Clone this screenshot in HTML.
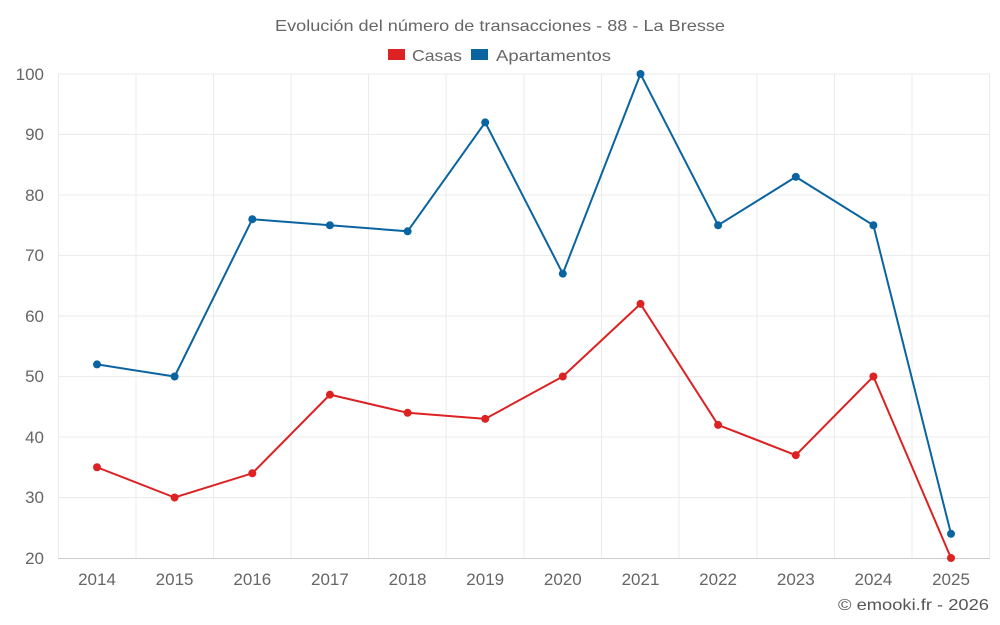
<!DOCTYPE html>
<html><head><meta charset="utf-8"><style>
html,body{margin:0;padding:0;background:#fff;}
svg{display:block;font-family:"Liberation Sans",sans-serif;}
</style></head><body>
<svg width="1000" height="625" viewBox="0 0 1000 625">
<rect width="1000" height="625" fill="#fff"/>
<text x="275" y="31" font-size="16" fill="#666" textLength="450" lengthAdjust="spacingAndGlyphs">Evolución del número de transacciones - 88 - La Bresse</text>
<rect x="388" y="49" width="17" height="11" fill="#dc2222"/>
<text x="412" y="61" font-size="16" fill="#666" textLength="50" lengthAdjust="spacingAndGlyphs">Casas</text>
<rect x="471" y="49" width="17" height="11" fill="#0a64a0"/>
<text x="496" y="61" font-size="16" fill="#666" textLength="115" lengthAdjust="spacingAndGlyphs">Apartamentos</text>
<g stroke="#ebebeb" stroke-width="1">
<line x1="58" y1="74" x2="990" y2="74"/><line x1="58" y1="134.5" x2="990" y2="134.5"/>
<line x1="58" y1="195" x2="990" y2="195"/><line x1="58" y1="255.5" x2="990" y2="255.5"/>
<line x1="58" y1="316" x2="990" y2="316"/><line x1="58" y1="376.5" x2="990" y2="376.5"/>
<line x1="58" y1="437" x2="990" y2="437"/><line x1="58" y1="497.5" x2="990" y2="497.5"/>
<line x1="58.5" y1="74" x2="58.5" y2="558"/><line x1="136" y1="74" x2="136" y2="558"/>
<line x1="213.5" y1="74" x2="213.5" y2="558"/><line x1="291" y1="74" x2="291" y2="558"/>
<line x1="368.5" y1="74" x2="368.5" y2="558"/><line x1="446" y1="74" x2="446" y2="558"/>
<line x1="524" y1="74" x2="524" y2="558"/><line x1="601.5" y1="74" x2="601.5" y2="558"/>
<line x1="679" y1="74" x2="679" y2="558"/><line x1="757" y1="74" x2="757" y2="558"/>
<line x1="834.5" y1="74" x2="834.5" y2="558"/><line x1="912" y1="74" x2="912" y2="558"/>
<line x1="989.5" y1="74" x2="989.5" y2="558"/>
</g>
<line x1="58" y1="558.5" x2="990" y2="558.5" stroke="#ccc"/>
<g font-size="17" fill="#666" text-anchor="end">
<text x="44" y="80">100</text><text x="44" y="140">90</text><text x="44" y="201">80</text>
<text x="44" y="261">70</text><text x="44" y="322">60</text><text x="44" y="382">50</text>
<text x="44" y="443">40</text><text x="44" y="503">30</text><text x="44" y="564">20</text>
</g>
<g font-size="17" fill="#666" text-anchor="middle">
<text x="97" y="585">2014</text><text x="174.6" y="585">2015</text><text x="252.3" y="585">2016</text>
<text x="329.9" y="585">2017</text><text x="407.6" y="585">2018</text><text x="485.2" y="585">2019</text>
<text x="562.8" y="585">2020</text><text x="640.5" y="585">2021</text><text x="718.1" y="585">2022</text>
<text x="795.8" y="585">2023</text><text x="873.4" y="585">2024</text><text x="951" y="585">2025</text>
</g>
<polyline fill="none" stroke="#0a64a0" stroke-width="2" points="97,364.4 174.6,376.5 252.3,219.2 329.9,225.25 407.6,231.3 485.2,122.4 562.8,273.65 640.5,74 718.1,225.25 795.8,176.85 873.4,225.25 951,533.8"/>
<g fill="#0a64a0">
<circle cx="97" cy="364.4" r="4"/><circle cx="174.6" cy="376.5" r="4"/><circle cx="252.3" cy="219.2" r="4"/>
<circle cx="329.9" cy="225.25" r="4"/><circle cx="407.6" cy="231.3" r="4"/><circle cx="485.2" cy="122.4" r="4"/>
<circle cx="562.8" cy="273.65" r="4"/><circle cx="640.5" cy="74" r="4"/><circle cx="718.1" cy="225.25" r="4"/>
<circle cx="795.8" cy="176.85" r="4"/><circle cx="873.4" cy="225.25" r="4"/><circle cx="951" cy="533.8" r="4"/>
</g>
<polyline fill="none" stroke="#dc2222" stroke-width="2" points="97,467.25 174.6,497.5 252.3,473.3 329.9,394.65 407.6,412.8 485.2,418.85 562.8,376.5 640.5,303.9 718.1,424.9 795.8,455.15 873.4,376.5 951,558"/>
<g fill="#dc2222">
<circle cx="97" cy="467.25" r="4"/><circle cx="174.6" cy="497.5" r="4"/><circle cx="252.3" cy="473.3" r="4"/>
<circle cx="329.9" cy="394.65" r="4"/><circle cx="407.6" cy="412.8" r="4"/><circle cx="485.2" cy="418.85" r="4"/>
<circle cx="562.8" cy="376.5" r="4"/><circle cx="640.5" cy="303.9" r="4"/><circle cx="718.1" cy="424.9" r="4"/>
<circle cx="795.8" cy="455.15" r="4"/><circle cx="873.4" cy="376.5" r="4"/><circle cx="951" cy="558" r="4"/>
</g>
<text x="838" y="610" font-size="16" fill="#555" textLength="151" lengthAdjust="spacingAndGlyphs">© emooki.fr - 2026</text>
</svg>
</body></html>
